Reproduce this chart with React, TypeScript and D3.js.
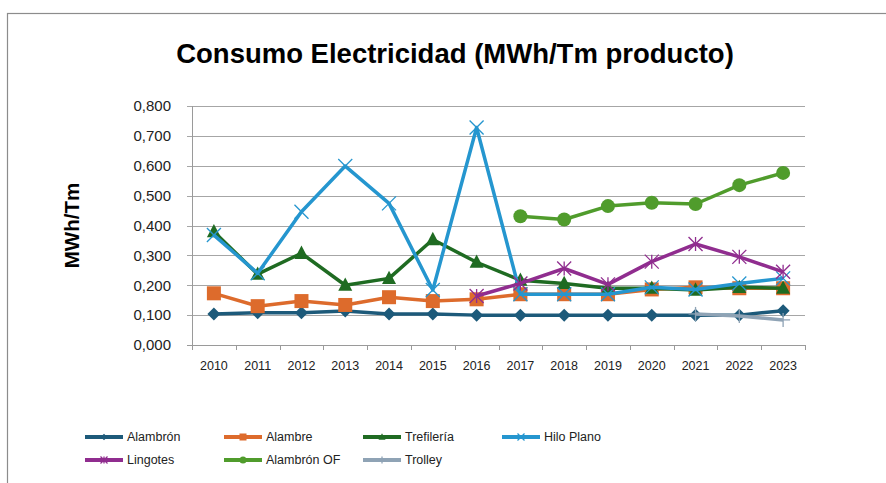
import React from 'react';
import * as d3 from 'd3';

const years = ['2010', '2011', '2012', '2013', '2014', '2015', '2016', '2017', '2018', '2019', '2020', '2021', '2022', '2023'];
const yTicks = [0, 0.1, 0.2, 0.3, 0.4, 0.5, 0.6, 0.7, 0.8];

const alambron = [0.104, 0.108, 0.108, 0.114, 0.104, 0.104, 0.1, 0.1, 0.1, 0.1, 0.1, 0.1, 0.1, 0.115];
const alambre = [0.173, 0.13, 0.147, 0.134, 0.16, 0.147, 0.153, 0.17, 0.17, 0.17, 0.186, 0.193, 0.19, 0.19];
const trefileria = [0.379, 0.237, 0.307, 0.2, 0.223, 0.353, 0.277, 0.217, 0.206, 0.19, 0.19, 0.184, 0.193, 0.19];
const hiloPlano = [0.368, 0.24, 0.446, 0.599, 0.474, 0.184, 0.728, 0.17, 0.17, 0.17, 0.193, 0.186, 0.206, 0.223];
const lingotes = [null, null, null, null, null, null, 0.164, 0.206, 0.256, 0.203, 0.279, 0.338, 0.295, 0.245];
const alambronOF = [null, null, null, null, null, null, null, 0.431, 0.42, 0.465, 0.476, 0.472, 0.535, 0.576];
const trolley = [null, null, null, null, null, null, null, null, null, null, null, 0.104, 0.097, 0.084];

const series = [
  { name: 'Alambrón', values: alambron, color: '#1d5a7a', marker: 'diamond' },
  { name: 'Alambre', values: alambre, color: '#dd6b2c', marker: 'square' },
  { name: 'Trefilería', values: trefileria, color: '#1f6b22', marker: 'triangle' },
  { name: 'Hilo Plano', values: hiloPlano, color: '#2596cf', marker: 'x' },
  { name: 'Lingotes', values: lingotes, color: '#902d8f', marker: 'star' },
  { name: 'Alambrón OF', values: alambronOF, color: '#509c2c', marker: 'circle' },
  { name: 'Trolley', values: trolley, color: '#8fa3b5', marker: 'plus' },
];

const legendPos = [
  [85, 437], [224, 437], [363, 437], [502, 437],
  [85, 460], [224, 460], [363, 460],
];

const font = "'Liberation Sans', Arial, sans-serif";

function Marker({ type, x, y, color, s }) {
  const r = 7 * s;
  if (type === 'diamond') {
    const h = 6.5 * s;
    return <path d={`M${x},${y - h}L${x + h},${y}L${x},${y + h}L${x - h},${y}Z`} fill={color} />;
  }
  if (type === 'square') {
    return <rect x={x - r} y={y - r} width={2 * r} height={2 * r} fill={color} />;
  }
  if (type === 'triangle') {
    return <path d={`M${x},${y - r * 1.1}L${x + r},${y + r * 0.8}L${x - r},${y + r * 0.8}Z`} fill={color} />;
  }
  if (type === 'circle') {
    return <circle cx={x} cy={y} r={r} fill={color} />;
  }
  const lines = [];
  if (type === 'x' || type === 'star') {
    lines.push([x - r, y - r, x + r, y + r], [x - r, y + r, x + r, y - r]);
  }
  if (type === 'star') lines.push([x, y - r, x, y + r]);
  if (type === 'plus') lines.push([x - r, y, x + r, y], [x, y - r, x, y + r]);
  return (
    <g stroke={color} strokeWidth={1.3}>
      {lines.map((l, i) => <line key={i} x1={l[0]} y1={l[1]} x2={l[2]} y2={l[3]} />)}
    </g>
  );
}

export default function App() {
  const W = 886, H = 483;
  const left = 192, right = 805, top = 106, bottom = 345;

  const x = d3.scaleBand().domain(years).range([left, right]);
  const y = d3.scaleLinear().domain([0, 0.8]).range([bottom, top]);
  const cx = (i) => x(years[i]) + x.bandwidth() / 2;

  const line = d3.line()
    .defined((d) => d != null)
    .x((d, i) => cx(i))
    .y((d) => y(d));

  const fmt = (v) => v.toFixed(3).replace('.', ',');

  return (
    <svg width={W} height={H} style={{ position: 'absolute', left: 0, top: 0 }}>
      <rect x={0} y={0} width={W} height={H} fill="#fff" />
      <rect x={7.5} y={13.5} width={W + 10} height={H + 10} fill="none" stroke="#8c8c8c" strokeWidth={1.2} />

      <text x={455} y={63} textAnchor="middle" fontFamily={font} fontWeight="bold" fontSize={27.5}>
        Consumo Electricidad (MWh/Tm producto)
      </text>

      <text transform={`translate(79,${(top + bottom) / 2}) rotate(-90)`} textAnchor="middle"
        fontFamily={font} fontWeight="bold" fontSize={20.5}>MWh/Tm</text>

      {yTicks.map((t) => (
        <g key={t}>
          <line x1={left - 5} x2={right} y1={Math.round(y(t)) + 0.5} y2={Math.round(y(t)) + 0.5}
            stroke={t === 0 ? '#9a9a9a' : '#a6a6a6'} strokeWidth={1} />
          <text x={171} y={y(t)} dy="0.35em" textAnchor="end" fontFamily={font} fontSize={15} fill="#222">
            {fmt(t)}
          </text>
        </g>
      ))}
      <line x1={left + 0.5} x2={left + 0.5} y1={top} y2={bottom} stroke="#9a9a9a" />
      {years.map((yr) => (
        <line key={yr} x1={Math.round(x(yr)) + 0.5} x2={Math.round(x(yr)) + 0.5} y1={bottom} y2={bottom + 5} stroke="#9a9a9a" />
      ))}
      <line x1={right + 0.5} x2={right + 0.5} y1={bottom} y2={bottom + 5} stroke="#9a9a9a" />
      {years.map((yr, i) => (
        <text key={yr} x={cx(i)} y={366} dy="0.35em" textAnchor="middle" fontFamily={font} fontSize={12.5} fill="#222">
          {yr}
        </text>
      ))}

      {series.map((s) => (
        <g key={s.name}>
          <path d={line(s.values)} fill="none" stroke={s.color} strokeWidth={3.5} strokeLinejoin="round" />
          {s.values.map((v, i) => v == null ? null : (
            <Marker key={i} type={s.marker} x={cx(i)} y={y(v)} color={s.color} s={1} />
          ))}
        </g>
      ))}

      {series.map((s, i) => {
        const [lx, ly] = legendPos[i];
        return (
          <g key={s.name}>
            <line x1={lx} x2={lx + 38} y1={ly} y2={ly} stroke={s.color} strokeWidth={4} />
            <Marker type={s.marker} x={lx + 19} y={ly} color={s.color} s={0.5} />
            <text x={lx + 42} y={ly} dy="0.35em" fontFamily={font} fontSize={12.5} fill="#222">{s.name}</text>
          </g>
        );
      })}
    </svg>
  );
}
